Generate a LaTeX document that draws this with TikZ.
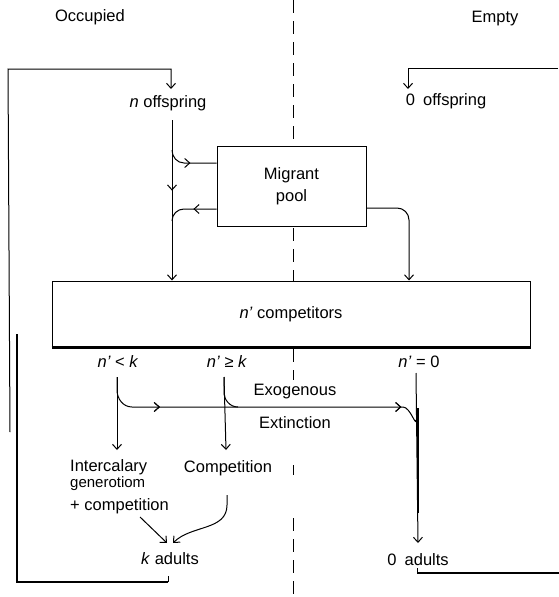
\documentclass[tikz,border=0pt]{standalone}
\usepackage{fontspec}
\setmainfont{Liberation Sans}
\usetikzlibrary{arrows.meta,decorations.markings,calc}
\begin{document}
\begin{tikzpicture}[x=1pt,y=-1pt,
  font=\fontsize{16.5}{19}\selectfont,
  ln/.style={line width=1pt},
  heavy/.style={line width=2.8pt},
  arr/.style={-{Straight Barb[length=5pt,width=9pt]}},
  midarr/.style={postaction={decorate},decoration={markings,mark=at position #1 with {\arrow{Straight Barb[length=5pt,width=9pt]}}}},
  lbl/.style={inner sep=0pt,anchor=center},
  lblw/.style={inner sep=0pt,anchor=west},
  boxn/.style={draw,line width=1pt,inner sep=0pt},
  divider/.style={line width=1pt,dash pattern=on 13pt off 8pt}]
\useasboundingbox (0,0) rectangle (559,597);

% centre divider
\draw[divider] (293,0) -- (293,146);
\draw[divider] (293,228) -- (293,281);
\draw[divider] (293,349) -- (293,380);
\draw[divider] (293,465) -- (293,475);
\draw[divider] (293,518) -- (293,597);

% headings
\node[lbl] (occ) at (90,17) {Occupied};
\node[lbl] (emp) at (495,19) {Empty};

% offspring
\node[lbl] (noff) at (168,103) {\textit{n} offspring};
\node[lbl] (zoff) at (446,101) {0\enspace offspring};

% boxes
\node[boxn,minimum width=149pt,minimum height=80pt,align=center] (pool) at (291.5,186) {Migrant\\[3pt]pool};
\node[boxn,minimum width=478pt,minimum height=66pt] (comp) at (291,314) {\textit{n'} competitors};
\draw[heavy] (comp.south west) -- (comp.south east);

% conditions
\node[lbl] (lt) at (118,362) {\textit{n'} < \textit{k}};
\node[lbl] (ge) at (227,362) {\textit{n'} ≥ \textit{k}};
\node[lbl] (eq) at (419,362) {\textit{n'} = 0};
\node[lbl] (exo) at (295,392) {Exogenous};
\node[lbl] (ext) at (295,423) {Extinction};

% outcomes
\node[lblw] (inter) at (70,467) {Intercalary};
\node[lblw,font=\fontsize{15}{16}\selectfont] (gen) at (70,484) {generotiom};
\node[lblw] (pc) at (70,506) {+ competition};
\node[lbl] (cmp) at (228,468) {Competition};
\node[lbl] (kad) at (170,559) {\textit{k} adults};
\node[lbl] (zad) at (418,560) {0\enspace adults};

% top left loop
\draw[ln,arr] (10,432) -- (8,69) -- (171,69) -- (171,89);
% top right loop
\draw[ln,arr] (558,68) -- (408,68) -- (408,89);

% n offspring down to competitors
\draw[ln,arr,midarr=0.44] (172,120) -- (comp.north -| 172,0);
\draw[ln,midarr=0.5] (172,150) to[out=-90,in=180] (184,163) -- ($(pool.west)+(0,-23)$);
\draw[ln,midarr=0.45] ($(pool.west)+(0,23)$) -- (184,209) to[out=180,in=90] (172,221);

% pool to competitors (right)
\draw[ln,arr] ($(pool.east)+(0,22)$) -- (397,208) to[out=0,in=90] (409,220) -- (comp.north -| 409,0);

% branches below competitors
\draw[ln,arr] (117,377) -- (117,450);
\draw[ln,arr] (224,377) -- (226,450);
\draw[ln,midarr=0.2,midarr=0.93] (117,377) -- (117,390) to[out=-90,in=180] (132,407) -- (403,407) to[out=0,in=-90] (416,420);
\draw[ln] (224,377) -- (224,392) to[out=-90,in=180] (238,407);
\draw[ln,arr] (416,373) -- (418,543);
\draw[heavy] (418,408) -- (418,513);

% to k adults
\draw[ln,arr] (140,517) -- (167,543);
\draw[ln,arr] (227,495) -- (227,505) to[out=-90,in=45] (173,543);

% bottom loops
\draw[heavy] (17,334) -- (17,582) -- (168,582);
\draw[ln] (168,582) -- (168,576);
\draw[ln] (417,568) -- (417,573);
\draw[heavy] (417,573) -- (559,573);
\end{tikzpicture}
\end{document}
